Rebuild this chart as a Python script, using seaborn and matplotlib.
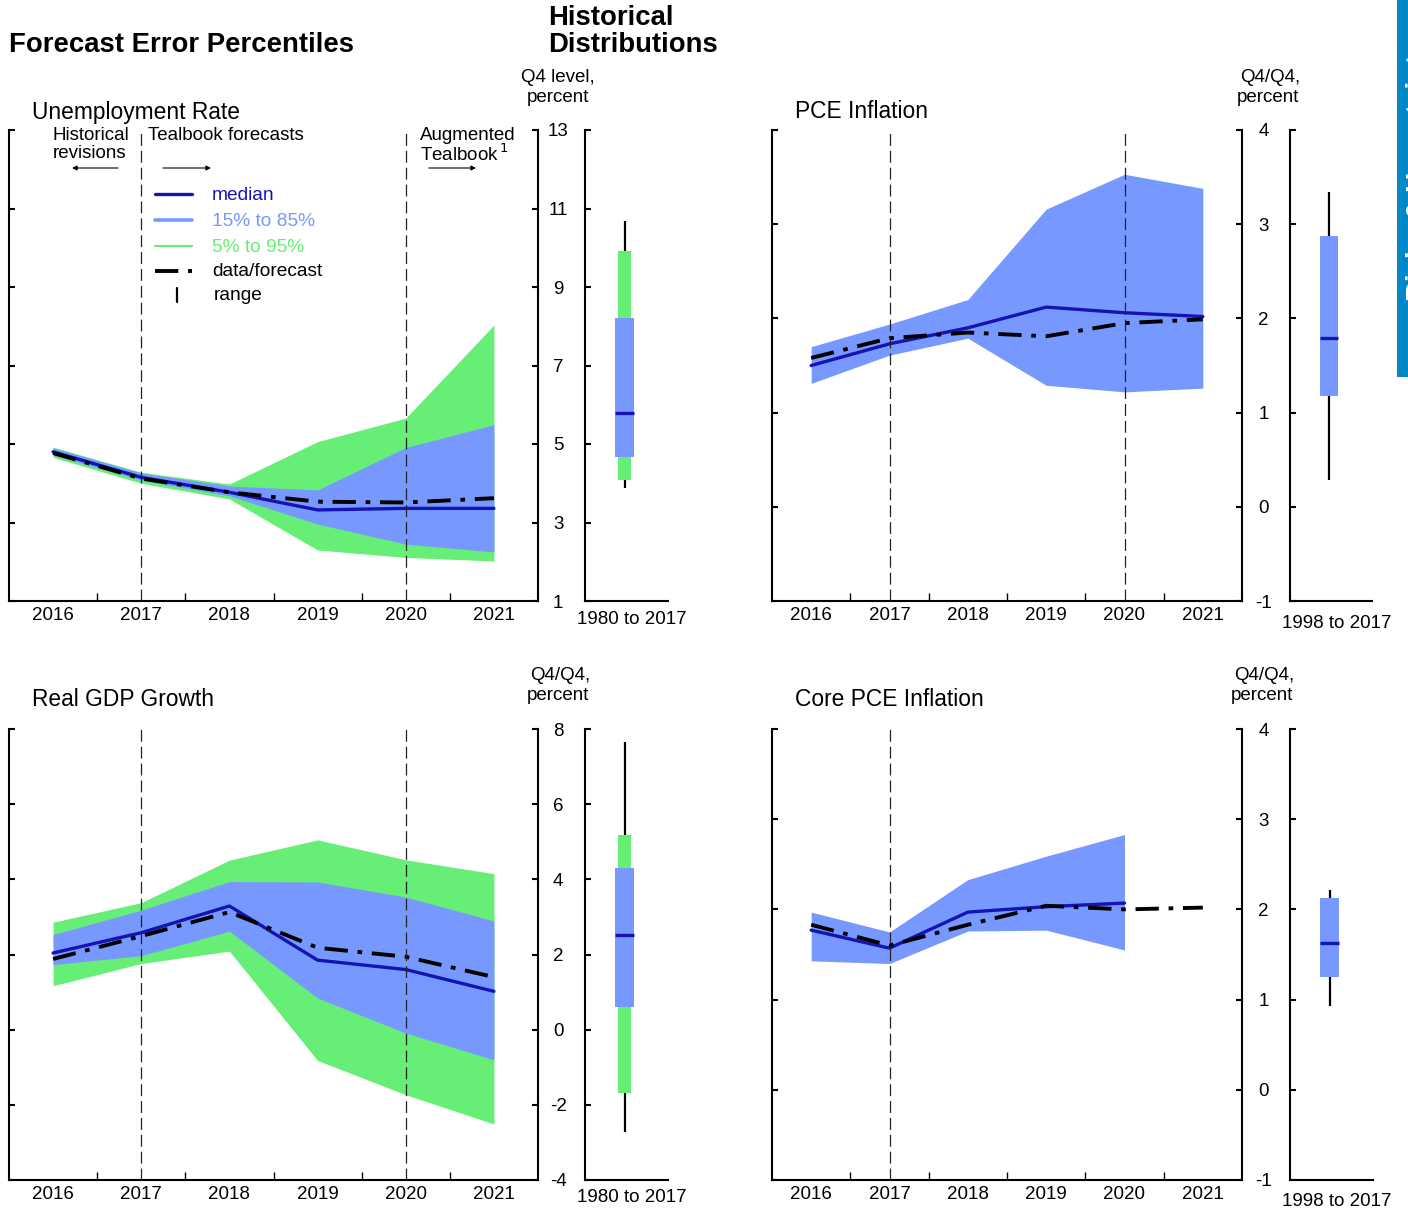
import matplotlib
matplotlib.use("Agg")
import matplotlib.pyplot as plt
import numpy as np
import seaborn as sns

# ─── figure geometry (pixels) ───
W, H = 1408, 1210

# ─── data ───
years = [2016, 2017, 2018, 2019, 2020, 2021]

# Unemployment rate, Q4 level
unemp_data = [4.77, 4.12, 3.77, 3.53, 3.51, 3.62]
unemp_median = [4.80, 4.15, 3.77, 3.32, 3.36, 3.36]
unemp_p15 = [4.72, 4.08, 3.68, 2.96, 2.45, 2.25]
unemp_p85 = [4.90, 4.26, 3.93, 3.83, 4.91, 5.49]
unemp_p05 = [4.66, 4.00, 3.60, 2.30, 2.11, 2.02]
unemp_p95 = [4.92, 4.28, 3.98, 5.06, 5.66, 8.03]

# PCE inflation, Q4/Q4
pce_data = [1.58, 1.79, 1.85, 1.81, 1.95, 1.99]
pce_median = [1.50, 1.73, 1.90, 2.12, 2.06, 2.02]
pce_p15 = [1.31, 1.61, 1.79, 1.29, 1.22, 1.26]
pce_p85 = [1.70, 1.94, 2.20, 3.16, 3.53, 3.38]

# Real GDP growth, Q4/Q4
gdp_data = [1.88, 2.49, 3.13, 2.18, 1.94, 1.40]
gdp_median = [2.04, 2.58, 3.29, 1.85, 1.60, 1.02]
gdp_p15 = [1.73, 1.97, 2.62, 0.84, -0.09, -0.80]
gdp_p85 = [2.53, 3.18, 3.94, 3.93, 3.53, 2.89]
gdp_p05 = [1.17, 1.76, 2.09, -0.82, -1.73, -2.51]
gdp_p95 = [2.86, 3.38, 4.51, 5.05, 4.52, 4.15]

# Core PCE inflation, Q4/Q4 (percentiles through 2020 only)
core_data = [1.83, 1.60, 1.83, 2.04, 2.00, 2.02]
core_median = [1.77, 1.57, 1.97, 2.03, 2.07]
core_p15 = [1.43, 1.40, 1.76, 1.77, 1.55]
core_p85 = [1.97, 1.75, 2.33, 2.59, 2.83]

# Historical distributions: range low, 5%, 15%, median, 85%, 95%, range high
unemp_hist = [3.88, 4.08, 4.66, 5.78, 8.22, 9.91, 10.69]
pce_hist = [0.28, None, 1.18, 1.79, 2.87, None, 3.34]
gdp_hist = [-2.71, -1.69, 0.59, 2.52, 4.30, 5.17, 7.65]
core_hist = [0.93, None, 1.25, 1.63, 2.13, None, 2.21]

MEDIAN_C = "#1414B4"
BAND_C = "#7799FF"
TAIL_C = "#66EE77"
TAB_C = "#0088C8"
DASHDOT = (0, (6, 2.5, 1.2, 2.5))
FS = 13.5

sns.set_theme(style="ticks")
plt.rcParams["font.family"] = ["Liberation Sans", "DejaVu Sans"]
plt.rcParams["axes.linewidth"] = 1.5
plt.rcParams["text.color"] = "black"
plt.rcParams["xtick.color"] = "black"
plt.rcParams["ytick.color"] = "black"
plt.rcParams["xtick.labelcolor"] = "black"
plt.rcParams["ytick.labelcolor"] = "black"
plt.rcParams["axes.edgecolor"] = "black"

fig = plt.figure(figsize=(W / 100, H / 100), dpi=100)


def px_axes(x0, y0, x1, y1):
    return fig.add_axes([x0 / W, 1 - y1 / H, (x1 - x0) / W, (y1 - y0) / H])


def draw_main(ax, ylim, yticks, data, median, p15, p85, p05=None, p95=None,
              vlines=(2017, 2020), label_pad=14.5):
    n = len(median)
    if p05 is not None:
        ax.fill_between(years[:n], p05, p95, color=TAIL_C, lw=0, zorder=1)
    ax.fill_between(years[:n], p15, p85, color=BAND_C, lw=0, zorder=2)
    sns.lineplot(x=years[:n], y=median, ax=ax, color=MEDIAN_C, lw=2.4, zorder=3)
    sns.lineplot(x=years, y=data, ax=ax, color="black", lw=2.8,
                 linestyle=DASHDOT, zorder=4)
    for v in vlines:
        ax.axvline(v, color="#222222", lw=0.9, ls=(0, (9.5, 4)), zorder=5)

    ax.set_xlim(2015.5, 2021.5)
    ax.set_ylim(*ylim)
    ax.set_xticks(years)
    ax.set_xticklabels([str(y) for y in years], fontsize=FS)
    ax.set_xticks(np.arange(2016.5, 2021, 1.0), minor=True)
    ax.tick_params(axis="x", which="major", length=0, pad=4)
    ax.tick_params(axis="x", which="minor", direction="in", length=6, width=1)
    ax.set_yticks(yticks)
    ax.set_yticklabels([str(t) for t in yticks], fontsize=FS)
    ax.tick_params(axis="y", direction="in", left=True, right=True,
                   labelleft=False, labelright=True, length=4, width=1.5,
                   pad=label_pad)
    plt.setp(ax.get_yticklabels(), ha="center")
    ax.spines["top"].set_visible(False)
    ax.set_xlabel("")
    ax.set_ylabel("")


def draw_box(bx, ylim, yticks, hist, xc=0.48):
    low, p05, p15, med, p85, p95, high = hist
    bx.vlines(xc, low, high, color="black", lw=1.6, zorder=1)
    if p05 is not None:
        bx.bar(xc, p95 - p05, bottom=p05, width=0.157, color=TAIL_C, lw=0, zorder=2)
    bx.bar(xc, p85 - p15, bottom=p15, width=0.23, color=BAND_C, lw=0, zorder=3)
    bx.hlines(med, xc - 0.115, xc + 0.115, color=MEDIAN_C, lw=2.4, zorder=4)
    bx.set_xlim(0, 1)
    bx.set_ylim(*ylim)
    bx.set_xticks([])
    bx.set_yticks(yticks)
    bx.tick_params(axis="y", direction="in", length=4, width=1.5, labelleft=False)
    bx.spines["top"].set_visible(False)
    bx.spines["right"].set_visible(False)


# ─── panels ───
ax1 = px_axes(9, 130, 538, 601)
draw_main(ax1, (1, 13), [1, 3, 5, 7, 9, 11, 13], unemp_data, unemp_median,
          unemp_p15, unemp_p85, unemp_p05, unemp_p95)
bx1 = px_axes(585, 130, 668, 601)
draw_box(bx1, (1, 13), [1, 3, 5, 7, 9, 11, 13], unemp_hist)

ax2 = px_axes(772, 130, 1242, 601)
draw_main(ax2, (-1, 4), [-1, 0, 1, 2, 3, 4], pce_data, pce_median,
          pce_p15, pce_p85, label_pad=15.5)
bx2 = px_axes(1290, 130, 1372, 601)
draw_box(bx2, (-1, 4), [-1, 0, 1, 2, 3, 4], pce_hist, xc=0.476)

ax3 = px_axes(9, 729, 538, 1180)
draw_main(ax3, (-4, 8), [-4, -2, 0, 2, 4, 6, 8], gdp_data, gdp_median,
          gdp_p15, gdp_p85, gdp_p05, gdp_p95)
bx3 = px_axes(585, 729, 668, 1180)
draw_box(bx3, (-4, 8), [-4, -2, 0, 2, 4, 6, 8], gdp_hist)

ax4 = px_axes(772, 729, 1242, 1180)
draw_main(ax4, (-1, 4), [-1, 0, 1, 2, 3, 4], core_data, core_median,
          core_p15, core_p85, vlines=(2017,), label_pad=15.5)
bx4 = px_axes(1290, 729, 1373, 1180)
draw_box(bx4, (-1, 4), [-1, 0, 1, 2, 3, 4], core_hist, xc=0.476)

# ─── overlay for titles, notes and legend (pixel coordinates) ───
ov = fig.add_axes([0, 0, 1, 1])
ov.set_xlim(0, W)
ov.set_ylim(H, 0)
ov.axis("off")
ov.patch.set_alpha(0)


def txt(x, y, s, size=FS, **kw):
    kw.setdefault("va", "center")
    kw.setdefault("ha", "left")
    ov.text(x, y, s, fontsize=size, **kw)


txt(9, 45, "Forecast Error Percentiles", size=19.8, weight="bold")
txt(548, 18, "Historical", size=19.8, weight="bold")
txt(548, 45, "Distributions", size=19.8, weight="bold")

txt(32, 112, "Unemployment Rate", size=16.4)
txt(795, 112, "PCE Inflation", size=16.4)
txt(32, 700, "Real GDP Growth", size=16.4)
txt(795, 700, "Core PCE Inflation", size=16.4)

txt(558, 77, "Q4 level,", ha="center")
txt(558, 97, "percent", ha="center")
txt(1270, 77, "Q4/Q4,", ha="center")
txt(1268, 97, "percent", ha="center")
txt(560, 676, "Q4/Q4,", ha="center")
txt(558, 696, "percent", ha="center")
txt(1264, 676, "Q4/Q4,", ha="center")
txt(1262, 696, "percent", ha="center")

# period labels under the historical-distribution panels
txt(632, 619, "1980 to 2017", ha="center")
txt(1337, 623, "1998 to 2017", ha="center")
txt(632, 1198, "1980 to 2017", ha="center")
txt(1337, 1201, "1998 to 2017", ha="center")

txt(53, 135, "Historical")
txt(53, 154, "revisions")
txt(148, 135, "Tealbook forecasts")
txt(420, 135, "Augmented")
txt(420, 154, r"Tealbook$^{\,1}$")
arrow = dict(arrowstyle="-|>", lw=0.8, color="black", mutation_scale=7,
             shrinkA=0, shrinkB=0)
ov.annotate("", xy=(72, 168), xytext=(118, 168), arrowprops=arrow)
ov.annotate("", xy=(211, 168), xytext=(163, 168), arrowprops=arrow)
ov.annotate("", xy=(476, 168), xytext=(429, 168), arrowprops=arrow)

# legend
ov.plot([155, 192], [194, 194], color=MEDIAN_C, lw=2.4)
ov.plot([155, 192], [220, 220], color=BAND_C, lw=2.6)
ov.plot([155, 192], [246, 246], color=TAIL_C, lw=1.6)
ov.plot([155, 192], [271, 271], color="black", lw=2.8, linestyle=DASHDOT)
ov.plot([177, 177], [288, 302], color="black", lw=1.6)
txt(212, 195, "median", size=13.8, color=MEDIAN_C)
txt(212, 221, "15% to 85%", size=13.8, color=BAND_C)
txt(212, 247, "5% to 95%", size=13.8, color=TAIL_C)
txt(212, 272, "data/forecast", size=13.8)
txt(214, 295, "range", size=13.8)

# side tab (its label runs off the page edge, as in the source)
ov.add_patch(plt.Rectangle((1397, 0), 12, 377, color=TAB_C, lw=0, clip_on=False))
ov.text(1419, 170, "Risks & Uncertainty", rotation=90, color="white",
        fontsize=20, weight="bold", ha="center", va="center", clip_on=True)

fig.savefig("out.png", dpi=100)
